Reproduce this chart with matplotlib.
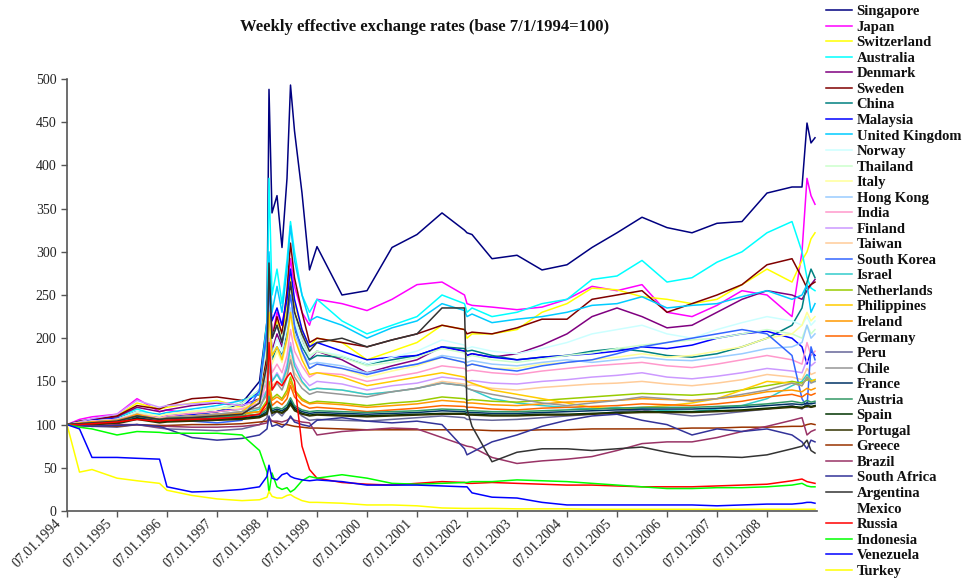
import matplotlib
matplotlib.use("Agg")
import matplotlib.pyplot as plt
import matplotlib.transforms as mtransforms

plt.rcParams['font.family'] = ['Liberation Serif', 'DejaVu Serif']

TITLE = "Weekly effective exchange rates (base 7/1/1994=100)"

# time grid in years (x axis runs 07.01.1994 .. 07.01.2009)
T = [1994.0, 1994.25, 1994.5, 1995.0, 1995.4, 1995.85, 1996.0, 1996.5, 1997.0, 1997.5, 1997.85,
     1998.0, 1998.04, 1998.1, 1998.2, 1998.3, 1998.4, 1998.47, 1998.55, 1998.7, 1998.85, 1999.0,
     1999.5, 2000.0, 2000.5, 2001.0, 2001.5, 2001.95, 2002.0, 2002.1, 2002.5, 2003.0, 2003.5,
     2004.0, 2004.5, 2005.0, 2005.5, 2006.0, 2006.5, 2007.0, 2007.5, 2008.0, 2008.5, 2008.7,
     2008.8, 2008.88, 2008.96]

tick_years = list(range(1994, 2009))
tick_labels = ["07.01.%d" % y for y in tick_years]

singapore = [100, 103, 105, 107, 115, 108, 110, 112, 115, 125, 150,
             220, 488, 345, 365, 305, 385, 493, 440, 368, 279, 306,
             250, 255, 305, 320, 345, 325, 322, 320, 292, 296, 279,
             285, 305, 322, 340, 328, 322, 333, 335, 368, 375, 375,
             449, 426, 432]
japan = [100, 106, 109, 112, 130, 115, 117, 112, 108, 112, 125,
         180, 280, 200, 230, 215, 250, 292, 260, 230, 215, 245,
         240, 232, 245, 262, 265, 250, 240, 238, 236, 233, 236,
         245, 260, 255, 262, 230, 225, 238, 255, 250, 225, 300,
         385, 365, 355]
switzerland = [100, 103, 106, 110, 125, 118, 120, 125, 128, 120, 125,
               170, 260, 200, 220, 200, 240, 270, 240, 210, 190, 200,
               195, 175, 185, 195, 215, 210, 200, 205, 205, 210, 230,
               240, 258, 256, 248, 245, 240, 245, 262, 280, 265, 290,
               300, 315, 322]
australia = [100, 104, 106, 108, 118, 110, 112, 115, 118, 125, 140,
             220, 385, 250, 280, 240, 290, 335, 300, 250, 230, 245,
             220, 205, 215, 225, 250, 240, 230, 235, 225, 230, 240,
             245, 268, 272, 290, 265, 270, 288, 300, 322, 335, 300,
             270, 258, 255]
denmark = [100, 103, 106, 109, 120, 115, 117, 122, 125, 122, 130,
           170, 240, 185, 205, 190, 225, 260, 230, 200, 175, 185,
           175, 160, 168, 175, 190, 185, 180, 182, 178, 182, 192,
           205, 225, 235, 225, 212, 215, 230, 245, 255, 250, 245,
           255, 262, 268]
sweden = [100, 104, 106, 110, 122, 118, 122, 130, 132, 128, 135,
          180, 270, 200, 225, 205, 255, 310, 270, 230, 195, 200,
          195, 190, 198, 205, 215, 210, 205, 207, 205, 212, 222,
          222, 245, 250, 255, 230, 240, 250, 262, 285, 292, 270,
          258, 262, 265]
china = [100, 102, 104, 106, 112, 108, 110, 112, 115, 118, 125,
         160, 230, 175, 190, 180, 205, 230, 210, 190, 175, 180,
         178, 170, 175, 180, 190, 188, 185, 186, 180, 175, 178,
         180, 185, 188, 185, 180, 178, 182, 190, 200, 215, 235,
         265, 280, 270]
malaysia = [100, 103, 105, 107, 112, 108, 110, 112, 115, 120, 140,
            200, 270, 220, 235, 215, 245, 280, 245, 210, 190, 195,
            185, 175, 178, 180, 190, 185, 180, 182, 178, 175, 178,
            180, 182, 185, 190, 188, 192, 200, 205, 208, 200, 190,
            170, 185, 180]
uk = [100, 102, 104, 106, 115, 112, 114, 118, 122, 128, 135,
      200, 300, 230, 260, 230, 280, 330, 290, 250, 220, 225,
      215, 200, 212, 220, 240, 232, 225, 228, 218, 222, 225,
      230, 238, 240, 248, 235, 238, 240, 248, 255, 245, 250,
      262, 230, 240]
norway = [100, 102, 104, 106, 115, 110, 112, 116, 120, 118, 125,
          165, 230, 180, 200, 185, 215, 250, 220, 195, 178, 185,
          180, 170, 178, 185, 198, 192, 188, 190, 185, 182, 188,
          195, 205, 210, 215, 205, 200, 210, 218, 225, 220, 215,
          225, 215, 220]
thailand = [100, 102, 104, 106, 114, 110, 112, 115, 118, 125, 140,
            190, 250, 200, 215, 200, 225, 255, 225, 200, 180, 185,
            178, 168, 172, 178, 188, 183, 178, 180, 175, 172, 176,
            180, 183, 188, 192, 195, 198, 200, 205, 210, 205, 200,
            215, 205, 210]
italy = [100, 101, 103, 105, 112, 110, 112, 115, 118, 120, 125,
         160, 220, 170, 185, 172, 195, 225, 200, 180, 165, 170,
         165, 155, 162, 168, 178, 172, 168, 170, 165, 165, 170,
         172, 175, 178, 182, 178, 180, 185, 190, 200, 205, 215,
         230, 220, 225]
hong_kong = [100, 101, 102, 104, 110, 107, 108, 110, 112, 115, 125,
             165, 230, 180, 190, 178, 200, 235, 205, 185, 170, 172,
             168, 160, 165, 170, 180, 176, 172, 174, 170, 168, 172,
             175, 172, 175, 178, 175, 174, 178, 182, 188, 190, 195,
             215, 200, 205]
india = [100, 102, 104, 106, 112, 108, 110, 113, 115, 118, 125,
         150, 200, 160, 170, 160, 180, 210, 185, 168, 155, 160,
         158, 150, 155, 160, 168, 165, 162, 163, 160, 158, 162,
         165, 168, 170, 172, 168, 166, 170, 175, 180, 175, 170,
         195, 180, 185]
finland = [100, 103, 107, 112, 128, 120, 122, 124, 126, 122, 128,
           140, 185, 150, 160, 150, 170, 195, 172, 155, 145, 150,
           147, 140, 145, 148, 155, 152, 150, 151, 148, 147, 150,
           152, 155, 157, 160, 155, 153, 156, 160, 165, 162, 160,
           175, 168, 172]
taiwan = [100, 101, 103, 105, 110, 107, 108, 110, 112, 115, 120,
          140, 175, 145, 150, 145, 160, 180, 160, 148, 140, 142,
          140, 135, 138, 142, 150, 147, 145, 146, 142, 140, 143,
          145, 147, 148, 150, 147, 145, 148, 152, 158, 155, 152,
          165, 158, 160]
south_korea = [100, 101, 103, 105, 110, 105, 106, 104, 102, 105, 140,
               210, 260, 200, 215, 195, 220, 250, 215, 185, 165, 170,
               165, 158, 165, 170, 178, 172, 168, 170, 165, 162, 168,
               172, 175, 182, 190, 195, 200, 205, 210, 205, 180, 130,
               120, 190, 175]
israel = [100, 101, 103, 104, 108, 105, 106, 108, 110, 112, 118,
          140, 190, 150, 158, 148, 165, 190, 168, 150, 140, 142,
          140, 135, 138, 142, 148, 145, 142, 140, 130, 125, 122,
          120, 118, 120, 118, 116, 115, 118, 122, 130, 145, 150,
          158, 152, 150]
netherlands = [100, 101, 102, 104, 110, 106, 107, 108, 110, 112, 115,
               128, 150, 130, 135, 130, 140, 155, 140, 130, 125, 127,
               125, 122, 125, 127, 132, 130, 128, 129, 127, 126, 128,
               130, 132, 134, 136, 135, 134, 136, 140, 145, 150, 148,
               152, 150, 152]
philippines = [100, 102, 103, 105, 110, 106, 107, 108, 110, 115, 130,
               170, 230, 180, 190, 175, 200, 230, 200, 175, 158, 160,
               155, 145, 150, 155, 160, 155, 150, 148, 140, 135, 130,
               125, 120, 118, 120, 122, 125, 130, 140, 150, 148, 145,
               155, 150, 152]
ireland = [100, 101, 103, 104, 112, 106, 108, 110, 112, 113, 115,
           125, 145, 128, 132, 128, 136, 150, 138, 128, 124, 125,
           123, 120, 122, 124, 128, 126, 125, 125, 123, 122, 124,
           126, 127, 128, 130, 129, 128, 130, 133, 138, 140, 138,
           142, 140, 142]
germany = [100, 101, 102, 103, 110, 105, 106, 107, 108, 110, 112,
           120, 140, 122, 127, 123, 130, 145, 132, 123, 119, 120,
           118, 115, 117, 119, 122, 121, 120, 120, 118, 117, 119,
           120, 121, 122, 124, 123, 122, 124, 127, 132, 135, 132,
           136, 134, 136]
peru = [100, 99, 98, 97, 100, 96, 95, 94, 93, 95, 100,
        108, 125, 110, 115, 110, 118, 128, 118, 110, 105, 106,
        105, 104, 106, 108, 110, 108, 106, 106, 105, 106, 108,
        110, 112, 115, 117, 113, 110, 112, 115, 118, 122, 118,
        125, 120, 122]
chile = [100, 101, 102, 104, 110, 106, 108, 110, 112, 115, 120,
         135, 170, 140, 148, 140, 155, 175, 155, 142, 135, 138,
         135, 132, 138, 142, 148, 145, 142, 140, 135, 130, 125,
         122, 125, 128, 132, 130, 127, 130, 135, 140, 148, 145,
         155, 148, 150]
france = [100, 100, 101, 102, 108, 104, 105, 106, 107, 108, 110,
          115, 130, 116, 118, 116, 120, 128, 120, 115, 113, 114,
          113, 112, 113, 114, 116, 115, 114, 114, 113, 113, 114,
          115, 116, 117, 118, 118, 118, 119, 120, 122, 124, 123,
          125, 124, 125]
austria = [100, 101, 102, 103, 110, 106, 107, 108, 109, 110, 112,
           117, 133, 118, 120, 118, 123, 131, 122, 117, 115, 116,
           115, 114, 115, 116, 118, 117, 116, 116, 115, 115, 116,
           117, 118, 119, 120, 120, 120, 121, 122, 124, 127, 125,
           128, 126, 127]
spain = [100, 100, 101, 102, 107, 103, 104, 105, 106, 107, 109,
         113, 125, 114, 116, 114, 118, 125, 118, 113, 111, 112,
         111, 110, 111, 112, 113, 113, 112, 112, 111, 111, 112,
         112, 113, 114, 115, 115, 115, 116, 117, 119, 121, 120,
         122, 121, 122]
portugal = [100, 100, 100, 101, 106, 102, 103, 104, 105, 106, 108,
            112, 123, 113, 115, 113, 117, 123, 116, 112, 110, 111,
            110, 109, 110, 111, 112, 112, 111, 111, 110, 110, 111,
            111, 112, 113, 114, 114, 114, 115, 116, 118, 120, 119,
            121, 120, 121]
greece = [100, 99, 99, 98, 100, 99, 99, 100, 100, 101, 103,
          104, 106, 104, 102, 100, 100, 99, 98, 97, 96, 96,
          95, 94, 94, 94, 94, 94, 94, 94, 93, 93, 94,
          94, 95, 95, 95, 95, 96, 96, 97, 97, 98, 98,
          100, 101, 100]
brazil = [100, 99, 98, 100, 100, 97, 98, 97, 97, 98, 100,
          102, 108, 104, 104, 103, 105, 108, 105, 103, 102, 88,
          92, 94, 96, 95, 85, 76, 75, 74, 62, 55, 58,
          60, 63, 70, 78, 80, 80, 85, 92, 98, 105, 108,
          88, 92, 94]
south_africa = [100, 99, 98, 99, 100, 98, 95, 85, 82, 84, 88,
                95, 110, 98, 100, 97, 102, 110, 103, 100, 98, 105,
                108, 104, 102, 104, 100, 72, 65, 68, 80, 88, 98,
                105, 110, 112, 105, 100, 88, 95, 92, 95, 88, 80,
                72, 82, 80]
argentina = [100, 101, 102, 104, 110, 106, 107, 108, 110, 112, 125,
             170, 287, 200, 215, 195, 225, 265, 230, 205, 185, 195,
             200, 190, 198, 205, 235, 235, 118, 98, 57, 68, 72,
             72, 70, 72, 74, 68, 63, 63, 62, 65, 72, 75,
             82, 70, 67]
mexico = [100, 98, 96, 55, 52, 48, 47, 46, 45, 46, 47,
          48, 50, 48, 47, 46, 47, 48, 46, 44, 42, 43,
          44, 45, 46, 47, 48, 48, 48, 48, 46, 42, 40,
          38, 39, 40, 41, 40, 40, 40, 40, 40, 38, 36,
          32, 33, 33]
russia = [100, 100, 101, 103, 106, 104, 105, 106, 107, 109, 112,
          125, 195, 140, 150, 145, 155, 160, 150, 75, 48, 38,
          33, 31, 30, 32, 34, 33, 32, 32, 33, 32, 31,
          30, 30, 29, 28, 28, 28, 29, 30, 31, 35, 37,
          34, 33, 32]
indonesia = [100, 97, 95, 88, 92, 91, 90, 90, 90, 88, 70,
             45, 21, 44, 28, 25, 27, 22, 25, 35, 40, 38,
             42, 38, 32, 31, 32, 33, 33, 34, 34, 36, 35,
             34, 32, 30, 28, 26, 26, 27, 27, 28, 30, 32,
             29, 28, 28]
venezuela = [100, 95, 62, 62, 61, 60, 28, 22, 23, 25, 28,
             40, 53, 38, 36, 42, 44, 40, 38, 36, 35, 36,
             34, 30, 30, 30, 29, 28, 28, 21, 16, 15, 10,
             7, 7, 7, 7, 7, 7, 6, 7, 8, 8, 9,
             10, 10, 9]
turkey = [100, 45, 48, 38, 35, 32, 24, 18, 14, 12, 13,
          16, 23, 17, 15, 15, 18, 19, 16, 12, 10, 10,
          9, 7, 7, 6, 3.5, 3, 3, 3, 3, 2.5, 2.5,
          2.5, 2, 2, 2, 2, 2, 2, 2, 2, 2, 2,
          2, 2, 2]

countries = ["Singapore", "Japan", "Switzerland", "Australia", "Denmark", "Sweden",
             "China", "Malaysia", "United Kingdom", "Norway", "Thailand", "Italy",
             "Hong Kong", "India", "Finland", "Taiwan", "South Korea", "Israel",
             "Netherlands", "Philippines", "Ireland", "Germany", "Peru", "Chile",
             "France", "Austria", "Spain", "Portugal", "Greece", "Brazil",
             "South Africa", "Argentina", "Mexico", "Russia", "Indonesia",
             "Venezuela", "Turkey"]
series = [singapore, japan, switzerland, australia, denmark, sweden, china, malaysia,
          uk, norway, thailand, italy, hong_kong, india, finland, taiwan, south_korea,
          israel, netherlands, philippines, ireland, germany, peru, chile, france,
          austria, spain, portugal, greece, brazil, south_africa, argentina, mexico,
          russia, indonesia, venezuela, turkey]
colors = ["#000080", "#FF00FF", "#FFFF00", "#00FFFF", "#800080", "#800000",
          "#008080", "#0000FF", "#00CCFF", "#CCFFFF", "#CCFFCC", "#FFFF99",
          "#99CCFF", "#FF99CC", "#CC99FF", "#FFCC99", "#3366FF", "#33CCCC",
          "#99CC00", "#FFCC00", "#FF9900", "#FF6600", "#666699", "#969696",
          "#003366", "#339966", "#003300", "#333300", "#993300", "#993366",
          "#333399", "#333333", "#FFFFFF", "#FF0000", "#00FF00", "#0000FF",
          "#FFFF00"]

fig = plt.figure(figsize=(9.68, 5.82), dpi=100)
ax = fig.add_axes([67 / 968, 71 / 582, 750 / 968, 432 / 582])

for i, (name, vals, col) in enumerate(zip(countries, series, colors)):
    z = 1 if name == "Mexico" else 2 + i * 0.01
    ax.plot(T, vals, color=col, lw=1.1, label=name, zorder=z)

ax.set_xlim(1994.0, 2009.0)
ax.set_ylim(0, 500)
ax.set_yticks(range(0, 501, 50))
ax.set_xticks(tick_years)
ax.tick_params(axis='both', direction='out', length=4, width=1, color='#555555')
ax.tick_params(axis='x', pad=6)
ax.set_xticklabels(tick_labels, rotation=45, ha='right', va='top',
                   rotation_mode='anchor', fontsize=10, color='#222222')
shift = mtransforms.ScaledTranslation(-12 / 100, 8 / 100, fig.dpi_scale_trans)
for lab in ax.get_xticklabels():
    lab.set_transform(lab.get_transform() + shift)
for lab in ax.get_yticklabels():
    lab.set_fontsize(10)
    lab.set_color('#222222')
for s in ['top', 'right']:
    ax.spines[s].set_visible(False)
for s in ['left', 'bottom']:
    ax.spines[s].set_color('#555555')
    ax.spines[s].set_linewidth(1.2)

fig.text(425 / 968, 1 - 27 / 582, TITLE, ha='center', va='center',
         fontsize=12, fontweight='bold', color='#111111')

leg = ax.legend(loc='upper left', bbox_to_anchor=(826 / 968, 1 - 5 / 582),
                bbox_transform=fig.transFigure, frameon=False,
                prop={'size': 10.5, 'weight': 'bold'},
                handlelength=1.8, handletextpad=0.3, labelspacing=0.16,
                borderaxespad=0, borderpad=0)
for t in leg.get_texts():
    t.set_color('#111111')

fig.savefig("out.png", dpi=100)
